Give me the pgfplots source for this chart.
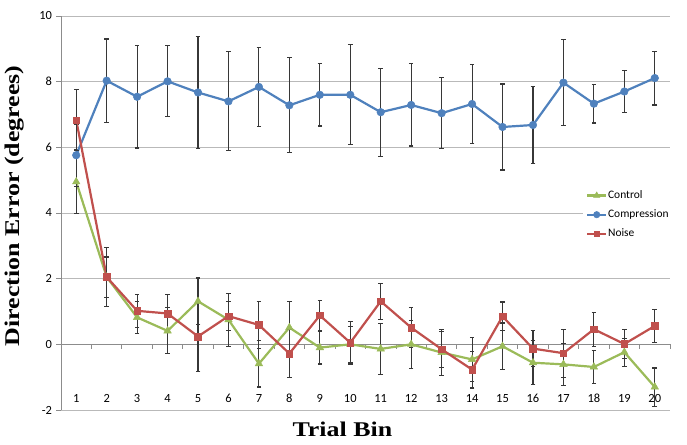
\documentclass[border=0pt]{standalone}
\usepackage{pgfplots}
\pgfplotsset{compat=1.18}
\usepackage{pgfplotstable}
\usepackage{fontspec}
\setmainfont{Carlito}
\newfontfamily\labfont[FakeStretch=1.24]{Liberation Serif}
\definecolor{cblue}{RGB}{79,129,189}
\definecolor{cred}{RGB}{192,80,77}
\definecolor{cgreen}{RGB}{155,187,89}
\definecolor{gridcol}{RGB}{185,185,185}
\definecolor{axcol}{RGB}{140,140,140}
\definecolor{ecol}{RGB}{55,55,55}

\pgfplotstableread{
x y e
1 4.95 0.97
2 2.05 0.61
3 0.82 0.49
4 0.41 0.70
5 1.31 0.71
6 0.75 0.81
7 -0.59 0.71
8 0.51 0.80
9 -0.10 0.50
10 0.00 0.54
11 -0.14 0.78
12 0.00 0.73
13 -0.25 0.69
14 -0.46 0.68
15 -0.06 0.71
16 -0.56 0.67
17 -0.61 0.64
18 -0.69 0.50
19 -0.24 0.43
20 -1.30 0.58
}\control

\pgfplotstableread{
x y e
1 5.76 0.95
2 8.03 1.27
3 7.54 1.56
4 8.01 1.08
5 7.67 1.71
6 7.40 1.51
7 7.84 1.21
8 7.28 1.45
9 7.60 0.95
10 7.60 1.52
11 7.07 1.34
12 7.29 1.25
13 7.04 1.08
14 7.32 1.21
15 6.62 1.31
16 6.68 1.16
17 7.97 1.31
18 7.33 0.59
19 7.70 0.63
20 8.11 0.82
}\compression

\pgfplotstableread{
x y e
1 6.83 0.94
2 2.05 0.90
3 1.02 0.51
4 0.94 0.58
5 0.24 1.06
6 0.86 0.45
7 0.59 0.72
8 -0.28 0.72
9 0.88 0.46
10 0.05 0.65
11 1.31 0.54
12 0.51 0.61
13 -0.15 0.55
14 -0.77 0.56
15 0.85 0.44
16 -0.13 0.54
17 -0.27 0.73
18 0.46 0.52
19 0.01 0.45
20 0.56 0.51
}\noise

\begin{document}
\begin{tikzpicture}
\begin{axis}[
  scale only axis, width=609bp, height=394bp,
  xmin=0.5, xmax=20.5, ymin=-2, ymax=10,
  axis x line=middle, axis y line=left,
  axis line style={-, draw=axcol, line width=0.9bp},
  tick align=outside, major tick length=4.5bp,
  tick style={axcol, line width=0.9bp},
  xtick={0.5,1.5,...,20.5}, xticklabels={},
  extra x ticks={1,2,...,20},
  extra x tick labels={1,2,3,4,5,6,7,8,9,10,11,12,13,14,15,16,17,18,19,20},
  extra x tick style={major tick length=0pt, xticklabel style={anchor=center, yshift=-54bp}},
  tick label style={font=\fontsize{12.5}{14}\selectfont},
  ytick={-2,0,2,4,6,8,10},
  yticklabels={-2,0,2,4,6,8,10},
  yticklabel style={xshift=-1bp},
  ymajorgrids, grid style={gridcol, line width=0.9bp},
  xlabel={\labfont\bfseries Trial Bin},
  ylabel={\labfont\bfseries Direction Error (degrees)},
  xlabel style={at={(axis description cs:0.462,-0.0685)}, anchor=base, font=\fontsize{21}{24}\selectfont},
  ylabel style={at={(axis description cs:-0.0755,0.518)}, anchor=center, font=\fontsize{21}{24}\selectfont},
  legend style={at={(axis description cs:0.857,0.4957)}, anchor=west, draw=none, fill=white,
    inner xsep=3bp, inner ysep=2bp, row sep=6.5bp, font=\fontsize{11.5}{13}\selectfont,
    nodes={inner sep=0.8bp, text height=8.5bp, text depth=2.5bp}},
  legend cell align=left,
  legend image code/.code={\draw[#1, mark repeat=2, mark phase=2, every mark/.append style={scale=0.85}] plot coordinates {(0bp,0bp) (9.5bp,0bp) (19bp,0bp)};},
  every axis plot/.append style={line width=2.2bp},
]
\addplot[cgreen, mark=triangle*, mark size=4.3bp, mark options={solid, fill=cgreen, draw=cgreen, line width=0.5bp},
  error bars/.cd, y dir=both, y explicit, error bar style={ecol, line width=1.1bp},
  error mark options={rotate=90, ecol, line width=1.1bp, mark size=2.3bp}]
  table[x=x, y=y, y error=e]{\control};
\addlegendentry{Control}
\addplot[cblue, mark=*, mark size=3.8bp, mark options={solid, fill=cblue, draw=cblue, line width=0.5bp},
  error bars/.cd, y dir=both, y explicit, error bar style={ecol, line width=1.1bp},
  error mark options={rotate=90, ecol, line width=1.1bp, mark size=2.3bp}]
  table[x=x, y=y, y error=e]{\compression};
\addlegendentry{Compression}
\addplot[cred, mark=square*, mark size=3.3bp, mark options={solid, fill=cred, draw=cred, line width=0.5bp},
  error bars/.cd, y dir=both, y explicit, error bar style={ecol, line width=1.1bp},
  error mark options={rotate=90, ecol, line width=1.1bp, mark size=2.3bp}]
  table[x=x, y=y, y error=e]{\noise};
\addlegendentry{Noise}
\coordinate (bl) at (rel axis cs:0,0);
\coordinate (tr) at (rel axis cs:1,1);
\end{axis}
\pgfresetboundingbox
\path[use as bounding box] ([shift={(-61bp,-35bp)}]bl) rectangle ([shift={(17bp,16bp)}]tr);
\end{tikzpicture}
\end{document}
